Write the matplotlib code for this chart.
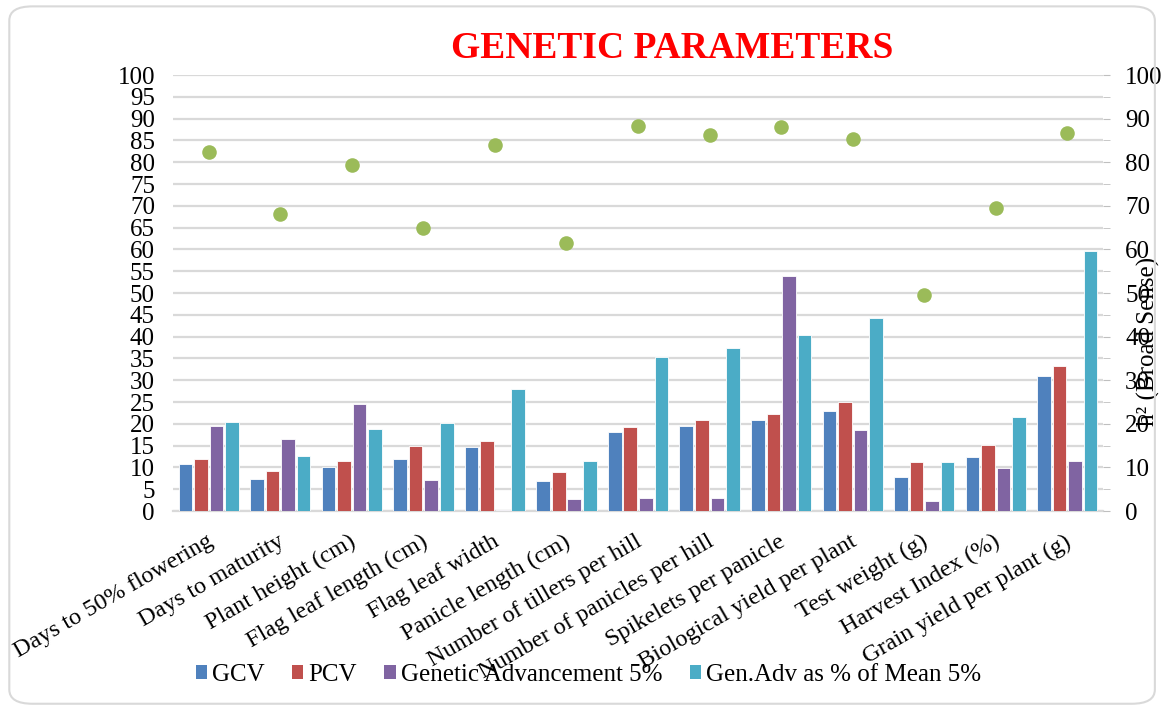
import matplotlib.pyplot as plt
import numpy as np
from matplotlib.patches import FancyBboxPatch, Patch
from matplotlib.ticker import MultipleLocator
from matplotlib.transforms import ScaledTranslation

plt.rcParams['font.family'] = ['Liberation Serif', 'DejaVu Serif']

# data
traits = ['Days to 50% flowering', 'Days to maturity', 'Plant height (cm)',
          'Flag leaf length (cm)', 'Flag leaf width', 'Panicle length (cm)',
          'Number of tillers per hill', 'Number of panicles per hill',
          'Spikelets per panicle', 'Biological yield per plant',
          'Test weight (g)', 'Harvest Index (%)', 'Grain yield per plant (g)']
gcv = [10.8, 7.4, 10.2, 12.0, 14.7, 7.0, 18.1, 19.5, 20.8, 23.0, 7.8, 12.5, 31.0]
pcv = [12.0, 9.1, 11.4, 14.9, 16.0, 9.0, 19.2, 20.9, 22.2, 25.1, 11.3, 15.1, 33.3]
gen_adv = [19.6, 16.5, 24.6, 7.1, 0.3, 2.7, 3.0, 3.0, 53.8, 18.5, 2.4, 9.8, 11.5]
gen_adv_mean = [20.4, 12.7, 18.9, 20.1, 27.9, 11.4, 35.3, 37.3, 40.3, 44.2, 11.3, 21.6, 59.7]
heritability = [82.3, 68.1, 79.3, 65.0, 83.9, 61.5, 88.2, 86.3, 88.1, 85.4, 49.6, 69.5, 86.7]

series = [('GCV', gcv, '#4F81BD'),
          ('PCV', pcv, '#C0504D'),
          ('Genetic Advancement 5%', gen_adv, '#8064A2'),
          ('Gen.Adv as % of Mean 5%', gen_adv_mean, '#4BACC6')]

fig = plt.figure(figsize=(11.63, 7.08), dpi=100)
ax = fig.add_axes([0.1488, 0.2782, 0.7996, 0.6158])

# rounded chart border
fig.patches.append(FancyBboxPatch((0.008, 0.006), 0.985, 0.985, boxstyle='round,pad=0,rounding_size=0.02',
                                  transform=fig.transFigure, fill=False, edgecolor='#D9D9D9', linewidth=1.5))

x = np.arange(len(traits))
w = 0.19
step = 0.217
for i, (name, vals, col) in enumerate(series):
    ax.bar(x + (i - 1.5) * step, vals, width=w, color=col, edgecolor='white', linewidth=0.6,
           label=name, zorder=3)

ax.set_xlim(-0.5, len(traits) - 0.5)
ax.set_ylim(0, 100)
ax.yaxis.set_major_locator(MultipleLocator(5))
ax.grid(axis='y', color='#D9D9D9', linewidth=1.6, zorder=0)
ax.set_axisbelow(True)
for s in ['top', 'left', 'right']:
    ax.spines[s].set_visible(False)
ax.spines['bottom'].set_color('#D9D9D9')
ax.spines['bottom'].set_linewidth(1.6)
ax.tick_params(axis='y', length=0, labelsize=18, pad=13)
ax.tick_params(axis='x', length=0)
ax.set_xticks(x)
ax.set_xticklabels(traits, rotation=30, ha='right', va='top', rotation_mode='anchor', fontsize=17.5)
shift = ScaledTranslation(-2 / 72, 0, fig.dpi_scale_trans)
for lbl in ax.get_xticklabels():
    lbl.set_y(-0.035)
    lbl.set_transform(lbl.get_transform() + shift)

# heritability on the secondary axis
ax2 = ax.twinx()
ax2.scatter(x, heritability, s=110, color='#9BBB59', zorder=4, linewidths=0)
ax2.set_ylim(0, 100)
ax2.yaxis.set_major_locator(MultipleLocator(10))
ax2.yaxis.set_minor_locator(MultipleLocator(5))
for s in ['top', 'left', 'right', 'bottom']:
    ax2.spines[s].set_visible(False)
ax2.tick_params(axis='y', which='both', length=5, color='#BFBFBF', labelsize=18, pad=11)
ax2.set_ylabel('h² (Broad Sense)', fontsize=18, rotation=90)
ax2.yaxis.set_label_coords(1.037, 0.39)

fig.suptitle('GENETIC PARAMETERS', x=0.578, y=0.932, va='center', color='red', fontsize=27,
             fontweight='bold')

handles = [Patch(facecolor=c, edgecolor='none', label=n) for n, _, c in series]
fig.legend(handles=handles, loc='center', bbox_to_anchor=(0.506, 0.0466), ncol=4,
           frameon=False, fontsize=18, handlelength=0.45, handleheight=0.45,
           handletextpad=0.2, columnspacing=1.1)

fig.savefig('out.png', dpi=100)
